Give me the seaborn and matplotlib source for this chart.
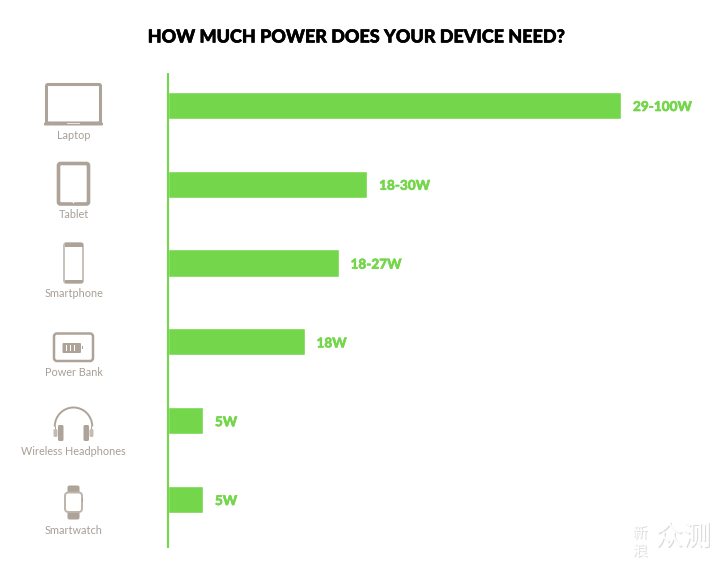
import matplotlib
matplotlib.use("Agg")
import matplotlib.pyplot as plt
import matplotlib.patheffects as pe
from matplotlib.patches import FancyBboxPatch, Rectangle, Circle, Arc
import seaborn as sns
import pandas as pd

devices = ["Laptop", "Tablet", "Smartphone", "Power Bank", "Wireless Headphones", "Smartwatch"]
bar_lengths = [100, 44, 37.7, 30.2, 7.8, 7.8]
power_labels = ["29-100W", "18-30W", "18-27W", "18W", "5W", "5W"]
title = "HOW MUCH POWER DOES YOUR DEVICE NEED?"

GREEN = "#74d64a"
ICON = "#aea398"
TEXT = "#a89f96"
W, H = 720, 569

sns.set_theme(style="white")
plt.rcParams["font.family"] = ["Lato", "DejaVu Sans"]
fig = plt.figure(figsize=(7.2, 5.69), dpi=100, facecolor="white")

ax = fig.add_axes([167.6 / W, 1 - 547 / H, (W - 167.6) / W, (547 - 74) / H])
df = pd.DataFrame({"device": devices, "value": bar_lengths})
sns.barplot(data=df, y="device", x="value", orient="h", color=GREEN, saturation=1,
            width=0.345, ax=ax)
ax.set_xlim(0, 100 * (W - 167.6) / 453.4)
ax.set_ylim(5.604, -0.398)
ax.set(xlabel="", ylabel="", xticks=[], yticks=[])
sns.despine(ax=ax, top=True, right=True, bottom=True)
ax.spines["left"].set_color(GREEN)
ax.spines["left"].set_linewidth(1.5)
ax.patch.set_alpha(0)

bold = [pe.withStroke(linewidth=0.35, foreground=GREEN)]
for i, (v, lab) in enumerate(zip(bar_lengths, power_labels)):
    ax.annotate(lab, (v, i), xytext=(8.6, -1.2), textcoords="offset points", va="center", ha="left",
                color=GREEN, fontsize=9.8, fontweight="black", path_effects=bold)

# overlay in pixel coordinates for title, icons and captions
o = fig.add_axes([0, 0, 1, 1])
o.set_xlim(0, W)
o.set_ylim(H, 0)
o.axis("off")
o.patch.set_alpha(0)
o.text(357, 37, title, ha="center", va="center", fontsize=12.95, fontweight="black", color="black",
       path_effects=[pe.withStroke(linewidth=0.4, foreground="black")])

caption_y = [135.5, 214.5, 293.5, 372, 451, 530]
for d, y in zip(devices, caption_y):
    o.text(73.8, y, d, ha="center", va="center", fontsize=7.8, color=TEXT)

def rrect(x0, y0, x1, y1, r, fc="none", ec=ICON, lw=2.0, alpha=1):
    o.add_patch(FancyBboxPatch((x0 + r, y0 + r), x1 - x0 - 2 * r, y1 - y0 - 2 * r,
                               boxstyle=f"round,pad={r},rounding_size={r}",
                               fc=fc, ec=ec, lw=lw, alpha=alpha))

# laptop
rrect(46.5, 84.5, 100.5, 123, 1.5, lw=2.2)
rrect(44, 122.5, 103, 125.5, 1, fc=ICON, lw=0)
o.add_patch(Rectangle((67, 122.5), 13, 1.3, fc="#e8e4df", lw=0))
# tablet
rrect(58.5, 163.5, 88.5, 204, 2, lw=2.6)
o.add_patch(Circle((73.5, 202.5), 0.8, fc="white", lw=0))
# smartphone
rrect(64, 243, 83, 283, 2.5, lw=1.3, ec="#c4bcb3")
o.add_patch(Rectangle((64.5, 243), 18, 3.8, fc=ICON, lw=0))
o.add_patch(Rectangle((64.5, 280), 18, 3, fc=ICON, lw=0))
# power bank
rrect(54, 333.5, 93, 361, 3, lw=1.8)
rrect(62.5, 343, 81, 353, 1, fc=ICON, lw=0)
for bx in [66.2, 70.2, 74.2]:
    o.add_patch(Rectangle((bx, 345), 0.9, 6, fc="white", lw=0))
o.add_patch(Rectangle((81.5, 345.8), 1.6, 3.4, fc=ICON, lw=0))
# headphones
o.add_patch(Arc((73.5, 426.5), 37.5, 38, theta1=180, theta2=360, ec=ICON, lw=1.4))
o.add_patch(Rectangle((54.7, 426), 1.0, 4, fc=ICON, lw=0))
o.add_patch(Rectangle((91.3, 426), 1.0, 4, fc=ICON, lw=0))
rrect(58, 425, 63.5, 441, 1.5, fc=ICON, lw=0)
rrect(83.5, 425, 89, 441, 1.5, fc=ICON, lw=0)
rrect(53.5, 429, 57.5, 437, 1.5, fc="#c4bcb3", lw=0)
rrect(89.5, 429, 93.5, 437, 1.5, fc="#c4bcb3", lw=0)
# smartwatch
rrect(67.5, 485.5, 79.5, 494, 2, fc=ICON, lw=0)
rrect(67.5, 510, 79.5, 519.5, 2, fc=ICON, lw=0)
rrect(65, 492.5, 82, 512, 3.5, fc="white", lw=1.4, ec="#bdb4aa")
o.add_patch(Rectangle((82, 498), 1.2, 4, fc=ICON, lw=0))

# watermark
shadow = [pe.withSimplePatchShadow(offset=(0.8, -0.8), shadow_rgbFace="#888888", alpha=0.3)]
cjk = ["Noto Sans CJK SC", "DejaVu Sans"]
o.text(640, 533, "新", ha="center", va="center", fontsize=11, color="white", family=cjk, path_effects=shadow)
o.text(640, 551, "浪", ha="center", va="center", fontsize=11, color="white", family=cjk, path_effects=shadow)
o.text(683, 537, "众测", ha="center", va="center", fontsize=20, color="white", family=cjk, path_effects=shadow)

fig.savefig("out.png", dpi=100, facecolor="white")
